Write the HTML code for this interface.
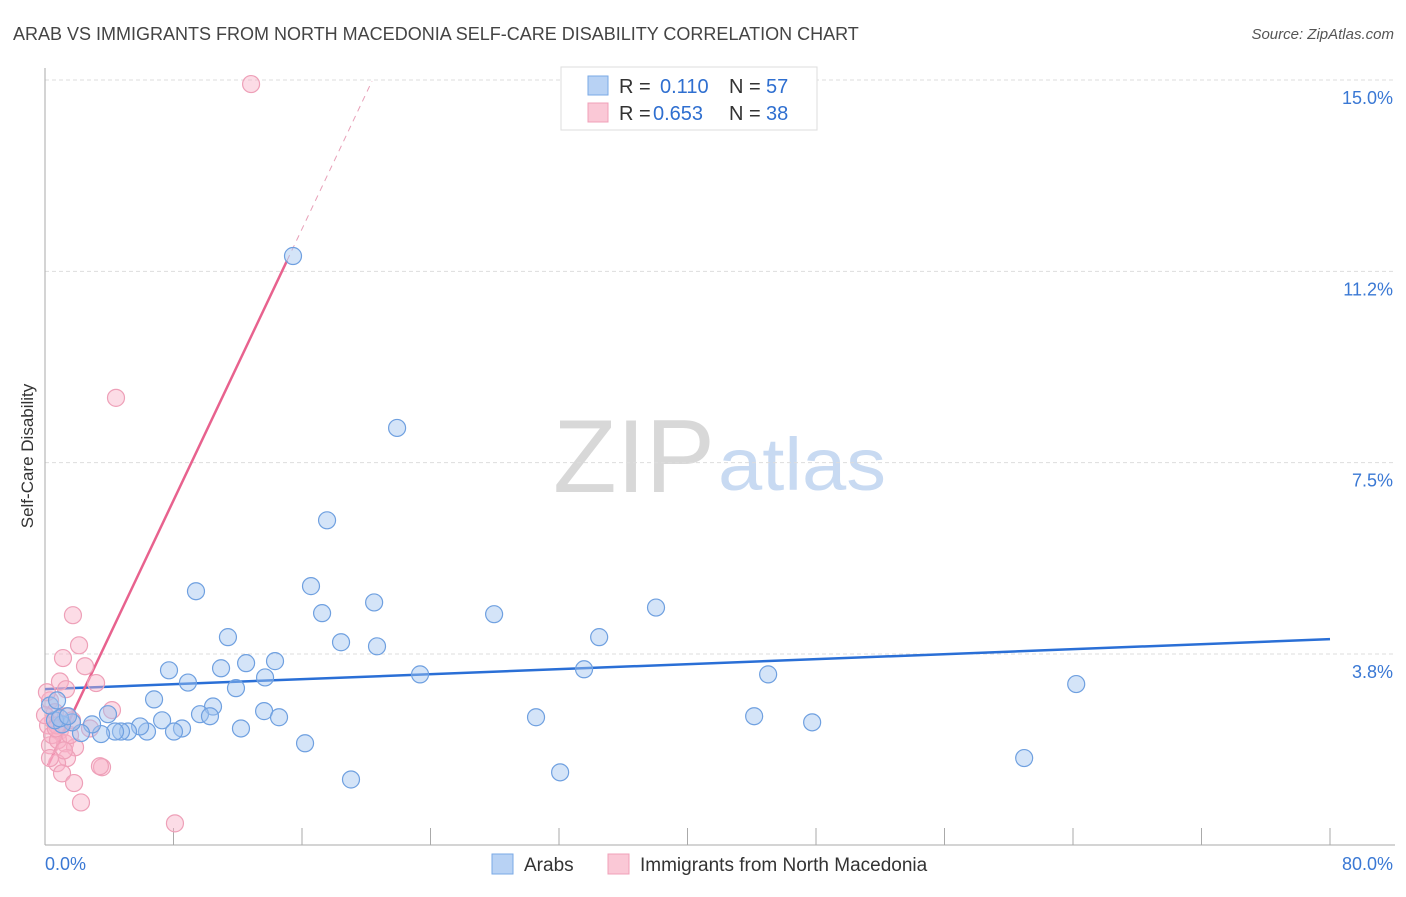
<!DOCTYPE html>
<html><head><meta charset="utf-8"><style>
body{margin:0;background:#fff;font-family:"Liberation Sans",sans-serif}
svg text{font-family:"Liberation Sans",sans-serif}
</style></head><body>
<svg id="chart" width="1406" height="892" viewBox="0 0 1406 892" xmlns="http://www.w3.org/2000/svg">
<text x="13" y="40" font-size="18" fill="#444">ARAB VS IMMIGRANTS FROM NORTH MACEDONIA SELF-CARE DISABILITY CORRELATION CHART</text>
<text x="1394" y="39" font-size="15" fill="#555" text-anchor="end" font-style="italic">Source: ZipAtlas.com</text>
<g>
<text x="553" y="492" font-size="104" font-family="Liberation Serif,serif" fill="#d8d8d8" textLength="162" lengthAdjust="spacingAndGlyphs">ZIP</text>
<text x="718" y="490" font-size="74" fill="#c8daf2" textLength="168" lengthAdjust="spacingAndGlyphs">atlas</text>
</g>
<g id="grid"></g>
<g id="axes"></g>
<g id="trends"></g>
<g id="points"></g>
<text transform="translate(33,456) rotate(-90)" font-size="17" fill="#333" text-anchor="middle">Self-Care Disability</text>
<g>
<rect x="561" y="67" width="256" height="63" fill="#fff" stroke="#ddd"/>
<rect x="588" y="76" width="20" height="19" fill="#b8d2f4" stroke="#7aa9e6"/>
<text x="619" y="93" font-size="20" fill="#333">R = </text><text x="660" y="93" font-size="20" fill="#2f6fd0">0.110</text>
<text x="729" y="93" font-size="20" fill="#333">N = </text><text x="766" y="93" font-size="20" fill="#2f6fd0">57</text>
<rect x="588" y="103" width="20" height="19" fill="#fac8d6" stroke="#f0a0b8"/>
<text x="619" y="120" font-size="20" fill="#333">R = </text><text x="653" y="120" font-size="20" fill="#2f6fd0">0.653</text>
<text x="729" y="120" font-size="20" fill="#333">N = </text><text x="766" y="120" font-size="20" fill="#2f6fd0">38</text>
</g>
<g>
<rect x="492" y="854" width="21" height="20" fill="#b8d2f4" stroke="#7aa9e6"/>
<text x="524" y="871" font-size="19" fill="#333">Arabs</text>
<rect x="608" y="854" width="21" height="20" fill="#fac8d6" stroke="#f0a0b8"/>
<text x="640" y="871" font-size="19" fill="#333">Immigrants from North Macedonia</text>
</g>
</svg>
<script>
const yTicks=[3.8,7.5,11.2,15.0];
const yTickVals=[3.75,7.5,11.25,15];
const arabX=[15.44,21.92,17.56,9.40,16.56,17.25,20.49,27.96,38.04,11.39,18.43,20.67,34.50,7.72,10.96,12.52,14.32,13.70,8.90,11.89,23.35,33.56,45.02,64.20,6.79,10.46,9.65,10.27,13.64,14.57,7.29,30.57,44.15,47.76,12.20,8.53,8.03,6.35,5.92,5.17,4.73,4.36,3.49,2.93,3.92,2.24,1.68,1.06,0.62,0.31,0.75,16.19,19.05,32.07,60.96,0.93,1.43];
const arabY=[11.55,8.18,6.37,4.98,5.08,4.55,4.76,4.53,4.66,4.08,3.98,3.90,4.08,3.43,3.47,3.57,3.61,3.29,3.19,3.08,3.35,3.45,3.35,3.16,2.86,2.72,2.57,2.53,2.63,2.51,2.45,2.51,2.53,2.41,2.29,2.29,2.23,2.23,2.33,2.23,2.23,2.23,2.18,2.37,2.57,2.20,2.41,2.37,2.45,2.74,2.84,2.00,1.29,1.43,1.71,2.49,2.53];
const macX=[12.83,4.42,1.74,2.12,1.12,2.49,0.93,1.31,3.18,0.31,0.62,0.50,4.17,0.93,0.31,1.25,1.87,1.37,0.75,1.06,1.81,2.24,8.09,3.55,3.42,0.19,0.44,0.81,1.56,0.0,0.12,0.75,1.18,2.80,0.68,1.31,1.68,0.31];
const macY=[14.92,8.77,4.51,3.92,3.67,3.51,3.21,3.06,3.18,2.84,2.61,2.45,2.65,2.25,1.96,2.00,1.92,1.71,1.61,1.41,1.22,0.84,0.43,1.53,1.55,2.35,2.16,2.06,2.16,2.55,3.00,2.35,1.86,2.29,2.29,2.53,2.45,1.71];
const arabTrend=[3.06,4.04];
const macTrend=[1.44,0.665];
const NS='http://www.w3.org/2000/svg';
const sx=v=>45+v*1285/80;
const sy=v=>845.3-v*51.02;
function mk(tag,parent,attrs){const e=document.createElementNS(NS,tag);for(const k in attrs)e.setAttribute(k,attrs[k]);document.getElementById(parent).appendChild(e);return e;}
yTickVals.forEach((v,i)=>{
 const l=mk('line','grid',{x1:45,x2:1395,y1:sy(v),y2:sy(v),stroke:'#ddd','stroke-dasharray':'4,3'});
 
 
 const t=mk('text','grid',{x:1393,y:sy(v)+24,'font-size':18,fill:'#3a78d4','text-anchor':'end'});
 t.textContent=yTicks[i].toFixed(1)+'%';
 
 
});
let a=mk('line','axes',{x1:45,x2:45,y1:68,y2:845,stroke:'#aaa'});


a=mk('line','axes',{x1:45,x2:1395,y1:845,y2:845,stroke:'#aaa'});


for(let i=0;i<=10;i++){const t=mk('line','axes',{x1:sx(i*8),x2:sx(i*8),y1:828,y2:845,stroke:'#aaa'});
 
 }
let lb=mk('text','axes',{x:45,y:870,'font-size':18,fill:'#3a78d4'});lb.textContent='0.0%';


lb=mk('text','axes',{x:1393,y:870,'font-size':18,fill:'#3a78d4','text-anchor':'end'});lb.textContent='80.0%';


let tr=mk('line','trends',{x1:sx(0),y1:sy(arabTrend[0]),x2:sx(80),y2:sy(arabTrend[1]),stroke:'#2a6fd6','stroke-width':2.5});


const mf=x=>macTrend[0]+macTrend[1]*x;
tr=mk('line','trends',{x1:sx(0.19),y1:sy(mf(0.19)),x2:sx(15.07),y2:sy(mf(15.07)),stroke:'#e8628e','stroke-width':2.5});


tr=mk('line','trends',{x1:sx(15.07),y1:sy(mf(15.07)),x2:sx(20.36),y2:sy(mf(20.36)),stroke:'#e8a0b8','stroke-width':1,'stroke-dasharray':'6,5'});


macX.forEach((x,i)=>{const c=mk('circle','points',{cx:sx(x),cy:sy(macY[i]),r:8.5,fill:'rgba(248,178,200,0.45)',stroke:'#eea0b8','stroke-width':1.2});
 
 });
arabX.forEach((x,i)=>{const c=mk('circle','points',{cx:sx(x),cy:sy(arabY[i]),r:8.5,fill:'rgba(160,196,240,0.45)',stroke:'#6fa0e0','stroke-width':1.2});
 
 });
</script>
</body></html>
